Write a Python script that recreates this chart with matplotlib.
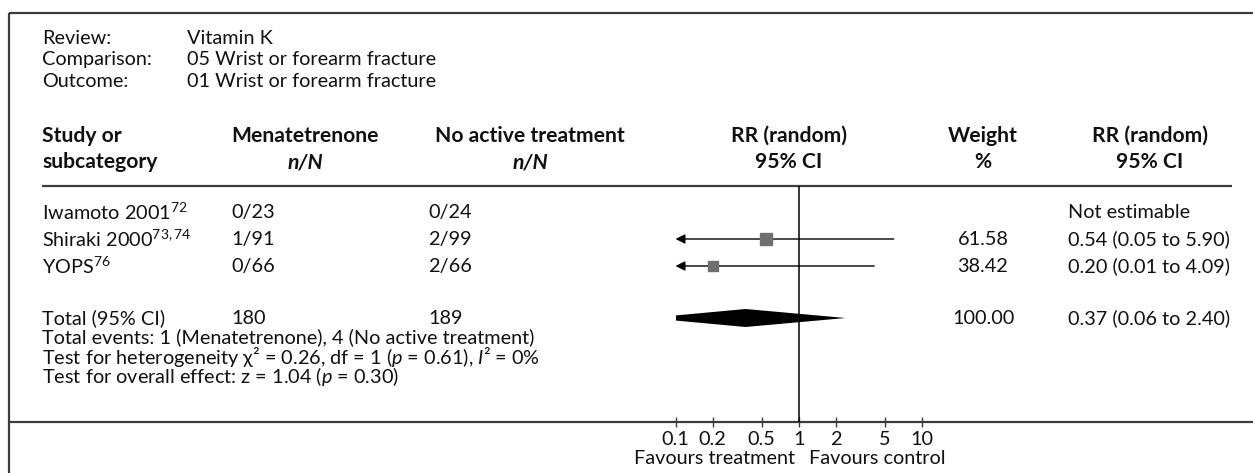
import numpy as np
import matplotlib
matplotlib.use("Agg")
import matplotlib.pyplot as plt
from matplotlib.ticker import NullLocator, FixedLocator, FixedFormatter

plt.rcParams["font.family"] = ["Lato", "DejaVu Sans"]
plt.rcParams["mathtext.fontset"] = "custom"
plt.rcParams["mathtext.rm"] = "Lato"
plt.rcParams["mathtext.it"] = "Lato:italic"
plt.rcParams["mathtext.bf"] = "Lato:bold"
plt.rcParams["mathtext.fallback"] = "stixsans"

# ---- review data ----
review = "Vitamin K"
comparison = "05 Wrist or forearm fracture"
outcome = "01 Wrist or forearm fracture"
treat_name = "Menatetrenone"
ctrl_name = "No active treatment"

studies = ["Iwamoto 2001", "Shiraki 2000", "YOPS"]
study_refs = ["72", "73,74", "76"]
treat_events = [0, 1, 0]
treat_total = [23, 91, 66]
ctrl_events = [0, 2, 2]
ctrl_total = [24, 99, 66]
rr = [np.nan, 0.54, 0.20]
rr_low = [np.nan, 0.05, 0.01]
rr_high = [np.nan, 5.90, 4.09]
weights = [np.nan, 61.58, 38.42]

pooled_rr = 0.37
pooled_low = 0.06
pooled_high = 2.40
pooled_weight = 100.00
treat_sum = 180
ctrl_sum = 189
treat_event_sum = 1
ctrl_event_sum = 4

axis_ticks = [0.1, 0.2, 0.5, 1, 2, 5, 10]
axis_tick_labels = ["0.1", "0.2", "0.5", "1", "2", "5", "10"]

# ---- canvas in pixel units ----
W, H = 1253, 473
DPI = 100
fig = plt.figure(figsize=(W / DPI, H / DPI), dpi=DPI)
bg = fig.add_axes([0, 0, 1, 1])
bg.set_xlim(0, W)
bg.set_ylim(H, 0)
bg.axis("off")

FS = 14.3     # body text
FSB = 15.2    # bold column headings
TXT = "#111111"
LINE = "#3c3c3c"

# frame
bg.plot([9, W], [13, 13], color=LINE, lw=1.6, solid_capstyle="butt")
bg.plot([9, 9], [13, H], color=LINE, lw=1.6, solid_capstyle="butt")
bg.plot([9, W], [422, 422], color=LINE, lw=1.6, solid_capstyle="butt")

# review info block
x0, x1 = 42, 187
for i, (k, v) in enumerate([("Review:", review), ("Comparison:", comparison), ("Outcome:", outcome)]):
    y = 38.5 + i * 21.3
    bg.text(x0, y, k, fontsize=FS, va="center", ha="left", color=TXT)
    bg.text(x1, y, v, fontsize=FS, va="center", ha="left", color=TXT)

# column header
hy1, hy2 = 136, 162
col_treat, col_ctrl = 231, 428
cen_treat, cen_ctrl, cen_plot, cen_w, cen_rr = 305, 530, 789, 983, 1150
col_rr = 1068
bg.text(x0, hy1, "Study or", fontsize=FSB, fontweight="bold", va="center", color=TXT)
bg.text(x0, hy2, "subcategory", fontsize=FSB, fontweight="bold", va="center", color=TXT)
for cx, top in [(cen_treat, treat_name), (cen_ctrl, ctrl_name)]:
    bg.text(cx, hy1, top, fontsize=FSB, fontweight="bold", ha="center", va="center", color=TXT)
    bg.text(cx, hy2, "n/N", fontsize=FSB, fontweight="bold", fontstyle="italic",
            ha="center", va="center", color=TXT)
for cx, top, bot in [(cen_plot, "RR (random)", "95% CI"), (cen_w, "Weight", "%"),
                     (cen_rr, "RR (random)", "95% CI")]:
    bg.text(cx, hy1, top, fontsize=FSB, fontweight="bold", ha="center", va="center", color=TXT)
    bg.text(cx, hy2, bot, fontsize=FSB, fontweight="bold", ha="center", va="center", color=TXT)
bg.plot([42, 1232], [186, 186], color=LINE, lw=1.6, solid_capstyle="butt")

# forest panel: log risk-ratio axis
rule_y, axis_y = 186, 422
px0, px1 = 675.5, 922.0
fx = fig.add_axes([px0 / W, (H - axis_y) / H, (px1 - px0) / W, (axis_y - rule_y) / H])
fx.set_xscale("log")
fx.set_xlim(axis_ticks[0], axis_ticks[-1])
fx.set_ylim(axis_y, rule_y)
fx.patch.set_visible(False)
for s in fx.spines.values():
    s.set_visible(False)
fx.yaxis.set_visible(False)
fx.xaxis.set_major_locator(FixedLocator(axis_ticks))
fx.xaxis.set_major_formatter(FixedFormatter(axis_tick_labels))
fx.xaxis.set_minor_locator(NullLocator())
fx.tick_params(axis="x", direction="inout", length=6.5, width=1.0, color=LINE,
               pad=3.5, labelsize=FS, labelcolor=TXT)
fx.axvline(1, color="black", lw=1.1)

row_y = [212, 239, 266]
xmin = axis_ticks[0]
for i, name in enumerate(studies):
    y = row_y[i]
    bg.text(x0, y, name + r"$^{\mathrm{" + study_refs[i] + "}}$", fontsize=FS, va="center", color=TXT)
    bg.text(col_treat, y, f"{treat_events[i]}/{treat_total[i]}", fontsize=FS, va="center", color=TXT)
    bg.text(col_ctrl, y, f"{ctrl_events[i]}/{ctrl_total[i]}", fontsize=FS, va="center", color=TXT)
    if np.isnan(rr[i]):
        bg.text(col_rr, y, "Not estimable", fontsize=FS, va="center", color=TXT)
        continue
    bg.text(cen_w, y, f"{weights[i]:.2f}", fontsize=FS, ha="center", va="center", color=TXT)
    bg.text(col_rr, y, f"{rr[i]:.2f} ({rr_low[i]:.2f} to {rr_high[i]:.2f})",
            fontsize=FS, va="center", color=TXT)
    if rr_low[i] < xmin:
        fx.annotate("", xy=(xmin, y), xytext=(rr_high[i], y),
                    arrowprops=dict(arrowstyle="-|>", mutation_scale=14, lw=1.0,
                                    color="black", shrinkA=0, shrinkB=0))
    else:
        fx.plot([rr_low[i], rr_high[i]], [y, y], color="black", lw=1.0)
    fx.plot([rr[i]], [y], marker="s", ms=1.1 * np.sqrt(weights[i]),
            color="#6f6f6f", mec="#6f6f6f", zorder=3)

# pooled estimate
ty = 318
bg.text(x0, ty, "Total (95% CI)", fontsize=FS, va="center", color=TXT)
bg.text(col_treat, ty, f"{treat_sum}", fontsize=FS, va="center", color=TXT)
bg.text(col_ctrl, ty, f"{ctrl_sum}", fontsize=FS, va="center", color=TXT)
bg.text(cen_w, ty, f"{pooled_weight:.2f}", fontsize=FS, ha="center", va="center", color=TXT)
bg.text(col_rr, ty, f"{pooled_rr:.2f} ({pooled_low:.2f} to {pooled_high:.2f})",
        fontsize=FS, va="center", color=TXT)
dh = 9.0
fx.fill([pooled_low, pooled_rr, pooled_high, pooled_rr], [ty, ty - dh, ty, ty + dh],
        color="black", lw=0, clip_on=True, zorder=3)

footer = [
    f"Total events: {treat_event_sum} ({treat_name}), {ctrl_event_sum} ({ctrl_name})",
    r"Test for heterogeneity χ² = 0.26, df = 1 ($p$ = 0.61), $I$² = 0%",
    r"Test for overall effect: z = 1.04 ($p$ = 0.30)",
]
for i, line in enumerate(footer):
    bg.text(x0, 337.5 + i * 19.3, line, fontsize=FS, va="center", color=TXT)

# direction labels under the axis
bg.text(714, 458, "Favours treatment", fontsize=FS, ha="center", va="center", color=TXT)
bg.text(877, 458, "Favours control", fontsize=FS, ha="center", va="center", color=TXT)

fig.savefig("out.png", dpi=DPI)
